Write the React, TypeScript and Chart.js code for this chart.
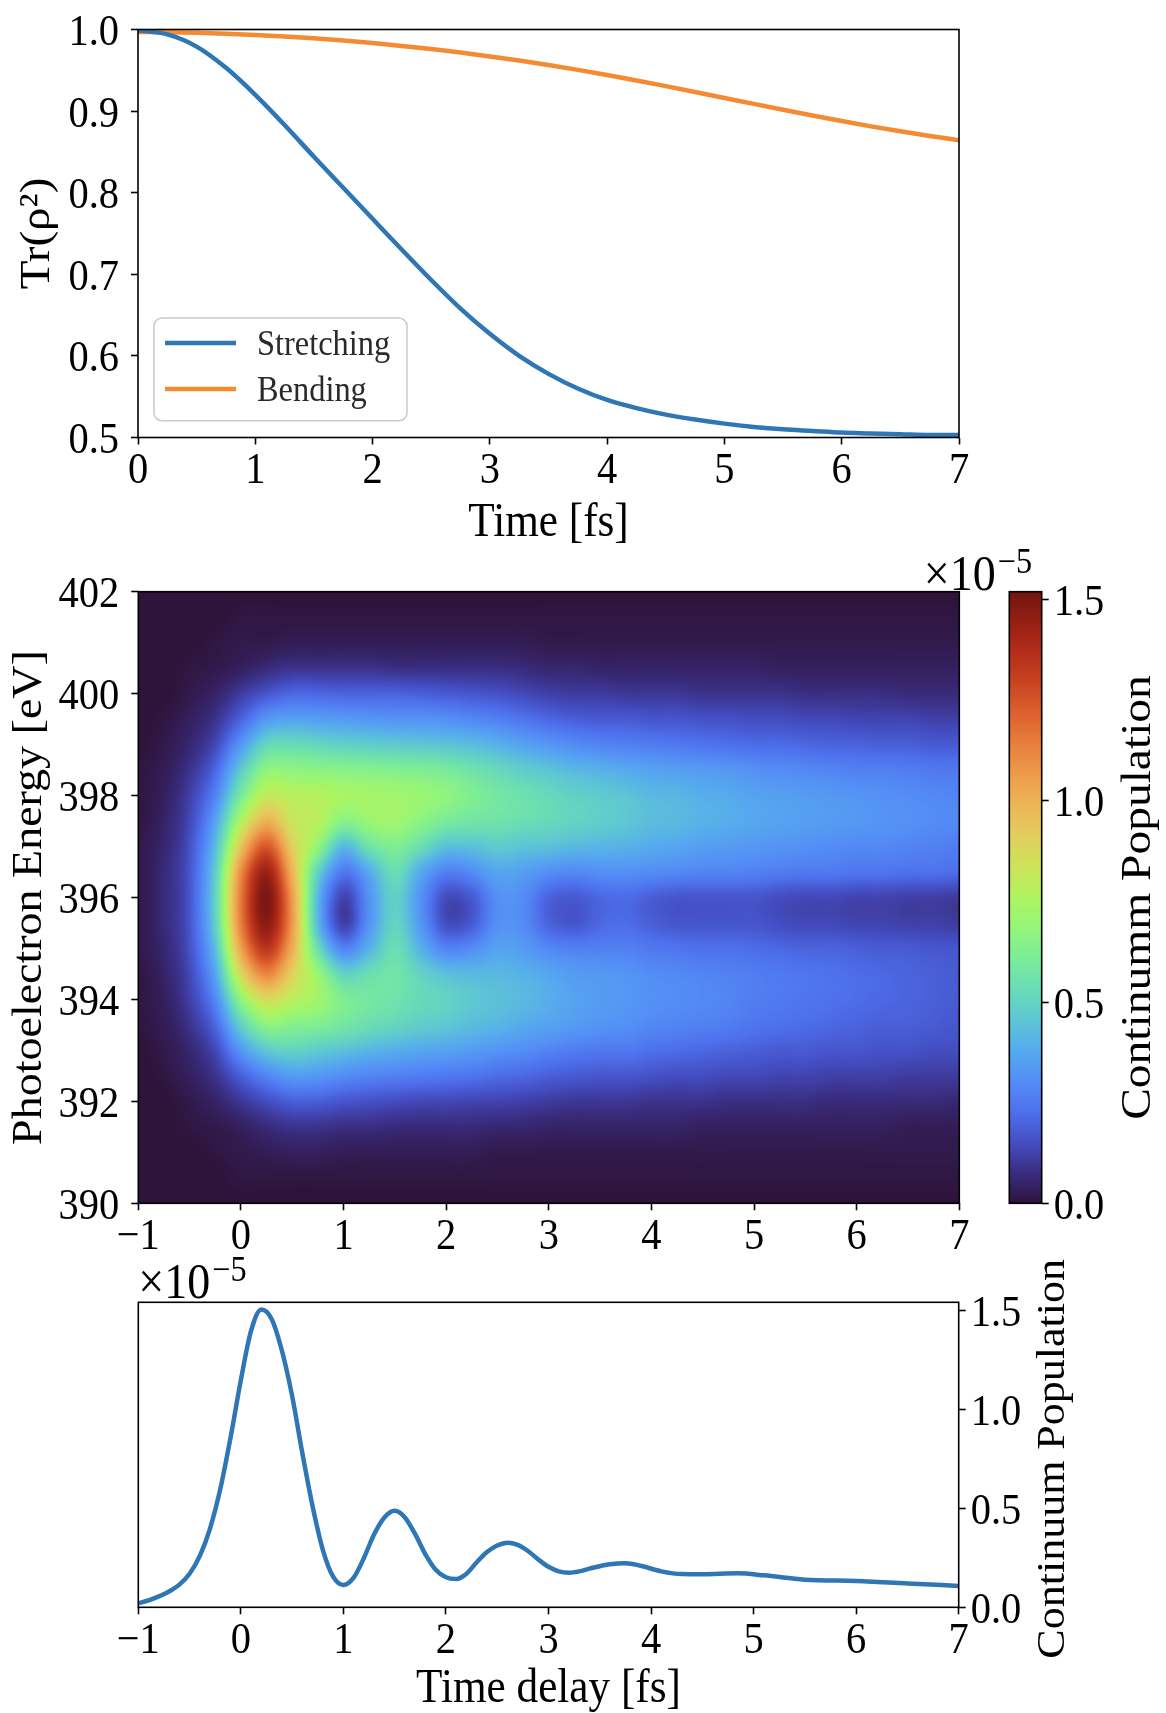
import React, { useEffect, useRef } from "react";
import { Chart, registerables } from "chart.js";

Chart.register(...registerables);

const FONT = "'Liberation Serif', 'Times New Roman', serif";
Chart.defaults.font.family = FONT;
Chart.defaults.color = "#000";

// ---------------- top panel: purity ----------------
const purityTimes = [0, 0.25, 0.5, 0.75, 1, 1.25, 1.5, 1.75, 2, 2.25, 2.5, 2.75, 3, 3.25, 3.5, 3.75, 4, 4.25, 4.5, 4.75, 5, 5.25, 5.5, 5.75, 6, 6.25, 6.5, 6.75, 7];
const stretchingPurity = [0.999, 0.994, 0.979, 0.953, 0.92, 0.883, 0.844, 0.806, 0.768, 0.73, 0.693, 0.658, 0.627, 0.6, 0.578, 0.56, 0.546, 0.536, 0.528, 0.522, 0.517, 0.513, 0.51, 0.508, 0.506, 0.505, 0.504, 0.503, 0.503];
const bendingPurity = [0.997, 0.9967, 0.996, 0.9949, 0.9934, 0.9915, 0.9892, 0.9865, 0.9834, 0.9799, 0.976, 0.9717, 0.967, 0.9619, 0.9564, 0.9505, 0.9443, 0.9376, 0.9306, 0.9234, 0.9161, 0.9088, 0.9016, 0.8946, 0.8878, 0.8813, 0.8752, 0.8695, 0.8643];
const purityXTicks = [0, 1, 2, 3, 4, 5, 6, 7];
const purityYTicks = [0.5, 0.6, 0.7, 0.8, 0.9, 1.0];

// ---------------- middle panel: photoelectron map (values in 1e-7) ----------------
const heatTimes = [-1, -0.75, -0.5, -0.25, 0, 0.25, 0.5, 0.75, 1, 1.25, 1.5, 1.75, 2, 2.25, 2.5, 2.75, 3, 3.25, 3.5, 3.75, 4, 4.25, 4.5, 4.75, 5, 5.25, 5.5, 5.75, 6, 6.25, 6.5, 6.75, 7];
const heatEnergies = [402, 401.5, 401, 400.5, 400, 399.5, 399, 398.5, 398, 397.5, 397, 396.5, 396, 395.5, 395, 394.5, 394, 393.5, 393, 392.5, 392, 391.5, 391, 390.5, 390];
const heatGrid = [
  [0, 0, 0, 0, 0, 0, 0, 1, 1, 1, 2, 2, 2, 2, 2, 1, 1, 1, 0, 0, 0, 0, 0, 0, 0],
  [0, 0, 0, 0, 0, 1, 2, 3, 4, 5, 6, 7, 7, 7, 6, 5, 4, 3, 2, 1, 0, 0, 0, 0, 0],
  [0, 0, 0, 1, 2, 4, 6, 9, 12, 14, 16, 17, 17, 17, 16, 14, 12, 9, 6, 4, 2, 1, 0, 0, 0],
  [0, 0, 1, 2, 5, 9, 14, 21, 28, 36, 43, 48, 50, 49, 44, 37, 29, 21, 14, 9, 5, 2, 1, 0, 0],
  [0, 1, 2, 4, 11, 20, 33, 47, 60, 76, 94, 110, 115, 114, 104, 87, 67, 49, 33, 19, 10, 4, 2, 1, 0],
  [0, 1, 2, 7, 17, 33, 51, 67, 81, 100, 124, 143, 150, 147, 134, 112, 86, 66, 46, 28, 15, 7, 3, 1, 0],
  [0, 1, 3, 9, 21, 36, 53, 67, 78, 83, 91, 99, 106, 107, 101, 90, 79, 64, 50, 34, 19, 9, 4, 1, 0],
  [0, 1, 3, 9, 21, 35, 51, 66, 77, 78, 68, 50, 42, 42, 54, 70, 72, 62, 47, 33, 19, 9, 4, 1, 0],
  [0, 1, 3, 9, 20, 34, 49, 65, 74, 65, 42, 25, 13, 12, 28, 50, 62, 58, 44, 30, 17, 8, 3, 1, 0],
  [0, 1, 3, 9, 20, 33, 48, 64, 73, 70, 56, 38, 32, 32, 40, 54, 58, 54, 41, 28, 16, 8, 3, 1, 0],
  [0, 1, 3, 8, 20, 32, 47, 63, 72, 72, 62, 54, 49, 50, 54, 57, 56, 51, 39, 27, 15, 7, 3, 1, 0],
  [0, 1, 3, 8, 19, 32, 46, 62, 70, 66, 54, 38, 32, 33, 40, 50, 52, 48, 37, 26, 14, 7, 3, 1, 0],
  [0, 1, 3, 8, 18, 31, 45, 60, 67, 60, 44, 27, 15, 15, 28, 44, 50, 46, 36, 25, 14, 7, 3, 1, 0],
  [0, 1, 3, 8, 17, 29, 43, 56, 62, 57, 44, 30, 18, 18, 30, 42, 46, 43, 34, 24, 13, 7, 3, 1, 0],
  [0, 1, 3, 8, 16, 27, 40, 52, 58, 56, 47, 37, 31, 31, 36, 42, 44, 41, 32, 22, 13, 6, 2, 1, 0],
  [0, 1, 3, 7, 14, 24, 36, 48, 55, 54, 45, 35, 30, 30, 34, 40, 42, 38, 30, 21, 12, 6, 2, 1, 0],
  [0, 1, 2, 6, 12, 21, 33, 45, 52, 52, 44, 31, 20, 20, 29, 37, 39, 36, 28, 19, 11, 5, 2, 1, 0],
  [0, 1, 2, 6, 11, 19, 30, 42, 49, 50, 42, 29, 18, 17, 27, 34, 36, 34, 26, 18, 10, 5, 2, 1, 0],
  [0, 1, 2, 5, 11, 18, 28, 40, 47, 48, 41, 31, 21, 21, 27, 33, 34, 32, 25, 17, 10, 5, 2, 1, 0],
  [0, 1, 2, 5, 10, 18, 27, 38, 45, 46, 40, 31, 22, 22, 27, 32, 33, 31, 25, 17, 10, 5, 2, 1, 0],
  [0, 1, 2, 5, 10, 17, 26, 36, 42, 43, 38, 30, 19, 19, 25, 30, 31, 29, 23, 16, 9, 5, 2, 1, 0],
  [0, 1, 2, 5, 10, 17, 25, 35, 41, 42, 37, 29, 17, 17, 24, 29, 30, 28, 22, 15, 9, 5, 2, 1, 0],
  [0, 1, 2, 5, 9, 16, 24, 34, 39, 40, 35, 28, 17, 17, 23, 28, 29, 27, 21, 15, 9, 4, 2, 1, 0],
  [0, 1, 2, 5, 9, 16, 23, 33, 38, 39, 34, 28, 17, 17, 23, 27, 28, 26, 20, 14, 8, 4, 2, 1, 0],
  [0, 1, 2, 5, 9, 15, 22, 31, 36, 37, 33, 27, 17, 17, 22, 26, 26, 24, 19, 14, 8, 4, 2, 1, 0],
  [0, 1, 2, 4, 9, 15, 22, 30, 35, 36, 32, 26, 15, 15, 21, 25, 25, 23, 18, 13, 8, 4, 2, 1, 0],
  [0, 1, 2, 4, 8, 14, 21, 29, 34, 35, 31, 25, 14, 14, 20, 24, 24, 22, 18, 13, 8, 4, 2, 1, 0],
  [0, 1, 2, 4, 8, 14, 20, 28, 33, 34, 30, 25, 14, 14, 20, 23, 23, 21, 17, 12, 7, 4, 2, 1, 0],
  [0, 1, 2, 4, 8, 13, 20, 27, 32, 33, 29, 24, 13, 13, 19, 22, 22, 20, 17, 12, 7, 4, 2, 1, 0],
  [0, 1, 2, 4, 8, 13, 19, 27, 31, 32, 29, 24, 13, 13, 18, 21, 21, 19, 16, 12, 7, 4, 2, 1, 0],
  [0, 1, 2, 4, 7, 13, 19, 26, 30, 31, 28, 23, 12, 12, 18, 20, 20, 19, 16, 11, 7, 3, 2, 1, 0],
  [0, 1, 2, 4, 7, 12, 18, 25, 29, 30, 27, 23, 12, 12, 17, 19, 19, 18, 15, 11, 7, 3, 2, 1, 0],
  [0, 1, 2, 4, 7, 12, 18, 25, 28, 29, 26, 22, 11, 11, 17, 18, 18, 17, 15, 11, 6, 3, 2, 1, 0],
];
const heatUnit = 0.01; // grid unit expressed in 1e-5
const colorMax = 1.52; // top of colour scale, in 1e-5
const heatXTicks = [-1, 0, 1, 2, 3, 4, 5, 6, 7];
const heatYTicks = [390, 392, 394, 396, 398, 400, 402];
const colorbarTicks = [0, 0.5, 1.0, 1.5];

// ---------------- bottom panel: continuum population (1e-5) ----------------
const delayTimes = [-1, -0.9, -0.8, -0.7, -0.6, -0.5, -0.4, -0.3, -0.2, -0.1, 0, 0.1, 0.2, 0.3, 0.4, 0.5, 0.6, 0.7, 0.8, 0.9, 1.0, 1.1, 1.2, 1.3, 1.4, 1.5, 1.6, 1.7, 1.8, 1.9, 2.0, 2.1, 2.2, 2.3, 2.4, 2.5, 2.6, 2.7, 2.8, 2.9, 3.0, 3.1, 3.2, 3.3, 3.4, 3.6, 3.75, 3.9, 4.1, 4.3, 4.5, 4.85, 5.1, 5.5, 6.0, 6.5, 7.0];
const continuumPop = [0.02, 0.035, 0.055, 0.08, 0.115, 0.17, 0.26, 0.4, 0.6, 0.86, 1.15, 1.4, 1.508, 1.46, 1.3, 1.07, 0.78, 0.51, 0.29, 0.155, 0.113, 0.15, 0.25, 0.37, 0.455, 0.489, 0.455, 0.37, 0.268, 0.19, 0.152, 0.143, 0.17, 0.228, 0.28, 0.313, 0.327, 0.316, 0.285, 0.242, 0.205, 0.182, 0.175, 0.182, 0.196, 0.218, 0.223, 0.21, 0.182, 0.168, 0.167, 0.172, 0.162, 0.14, 0.133, 0.121, 0.108];
const delayYTicks = [0, 0.5, 1.0, 1.5];
const delayYMax = 1.544;

const BLUE = "#2f76b5";
const ORANGE = "#f48a32";

// colour scale stops (fraction, r, g, b)
const cmapStops = [
  [0.0, 46, 19, 58], [0.05, 58, 45, 128], [0.1, 68, 78, 195], [0.15, 78, 112, 236],
  [0.2, 84, 142, 246], [0.25, 86, 170, 238], [0.3, 94, 198, 212], [0.35, 106, 220, 182],
  [0.4, 124, 236, 152], [0.45, 148, 245, 122], [0.5, 176, 244, 96], [0.55, 204, 228, 90],
  [0.6, 226, 206, 94], [0.65, 236, 182, 86], [0.7, 238, 156, 76], [0.75, 232, 127, 62],
  [0.8, 220, 97, 46], [0.85, 202, 68, 35], [0.9, 180, 46, 27], [0.95, 150, 31, 20], [1.0, 112, 22, 16],
];

function cmap(frac: number): [number, number, number] {
  const f = Math.max(0, Math.min(1, frac));
  for (let i = 0; i < cmapStops.length - 1; i++) {
    const a = cmapStops[i], b = cmapStops[i + 1];
    if (f <= b[0]) {
      const u = (f - a[0]) / (b[0] - a[0]);
      return [a[1] + (b[1] - a[1]) * u, a[2] + (b[2] - a[2]) * u, a[3] + (b[3] - a[3]) * u];
    }
  }
  const l = cmapStops[cmapStops.length - 1];
  return [l[1], l[2], l[3]];
}

const LUT_N = 1024;
const LUT = (() => {
  const arr = new Uint8ClampedArray(LUT_N * 3);
  for (let i = 0; i < LUT_N; i++) {
    const c = cmap(i / (LUT_N - 1));
    arr[i * 3] = c[0]; arr[i * 3 + 1] = c[1]; arr[i * 3 + 2] = c[2];
  }
  return arr;
})();

function locate(arr: number[], v: number): [number, number] {
  const n = arr.length;
  const asc = arr[n - 1] > arr[0];
  for (let i = 0; i < n - 1; i++) {
    const a = arr[i], b = arr[i + 1];
    if ((asc && v <= b) || (!asc && v >= b) || i === n - 2) {
      const f = (v - a) / (b - a);
      return [i, Math.max(0, Math.min(1, f))];
    }
  }
  return [0, 0];
}

function catmull(f: number): number[] {
  const f2 = f * f, f3 = f2 * f;
  return [(-f3 + 2 * f2 - f) / 2, (3 * f3 - 5 * f2 + 2) / 2, (-3 * f3 + 4 * f2 + f) / 2, (f3 - f2) / 2];
}

const clampI = (i: number, n: number) => Math.max(0, Math.min(n - 1, i));
const minusFmt = (v: any) => String(v).replace("-", "\u2212");
const oneDec = (v: any) => Number(v).toFixed(1);

const TICK_SIZE = 44;
const TICK_SX = 0.92;

function axis(position: string, min: number, max: number, ticks: number[], fmt: any, fit: any) {
  return {
    type: "linear",
    position,
    min,
    max,
    afterBuildTicks: (s: any) => { s.ticks = ticks.map((v) => ({ value: v })); },
    afterFit: fit,
    ticks: { display: false, callback: fmt, autoSkip: false, includeBounds: false },
    grid: { display: true, drawOnChartArea: false, drawTicks: true, tickLength: 7, tickWidth: 1.6, tickColor: "#000", color: "#000" },
    border: { display: false },
  };
}

function drawText(ctx: any, text: string, x: number, y: number, size: number, align: string, sx: number) {
  ctx.save();
  ctx.translate(x, y);
  ctx.scale(sx, 1);
  ctx.font = `${size}px ${FONT}`;
  ctx.fillStyle = "#000";
  ctx.textAlign = align;
  ctx.textBaseline = "alphabetic";
  ctx.fillText(text, 0, 0);
  ctx.restore();
}

function drawRotated(ctx: any, text: string, x: number, y: number, size: number) {
  ctx.save();
  ctx.translate(x, y);
  ctx.rotate(-Math.PI / 2);
  ctx.scale(1, 0.9);
  ctx.font = `${size}px ${FONT}`;
  ctx.fillStyle = "#000";
  ctx.textAlign = "center";
  ctx.textBaseline = "alphabetic";
  ctx.fillText(text, 0, 0);
  ctx.restore();
}

function drawOffset(ctx: any, x: number, baseline: number, align: string) {
  ctx.save();
  ctx.font = `50px ${FONT}`;
  const a = ctx.measureText("\u00d710").width * TICK_SX;
  ctx.font = `35px ${FONT}`;
  const b = ctx.measureText("\u22125").width * TICK_SX;
  const x0 = align === "left" ? x : x - a - b - 2;
  drawText(ctx, "\u00d710", x0, baseline, 50, "left", TICK_SX);
  drawText(ctx, "\u22125", x0 + a + 2, baseline - 17, 35, "left", TICK_SX);
  ctx.restore();
}

const tickLabelPlugin = {
  id: "tickLabels",
  afterDraw(chart: any) {
    const { ctx } = chart;
    Object.keys(chart.scales).forEach((id) => {
      const s = chart.scales[id];
      const o = s.options;
      if (!o.display) return;
      const cb = o.ticks.callback;
      s.ticks.forEach((t: any, i: number) => {
        const text = String(cb.call(s, t.value, i, s.ticks));
        const p = s.getPixelForValue(t.value);
        if (o.position === "bottom") drawText(ctx, text, p, s.top + 45.5, TICK_SIZE, "center", TICK_SX);
        else if (o.position === "left") drawText(ctx, text, s.right - 19, p + 15.5, TICK_SIZE, "right", TICK_SX);
        else drawText(ctx, text, s.left + 12, p + 15.5, TICK_SIZE, "left", TICK_SX);
      });
    });
  },
};

const framePlugin = {
  id: "frame",
  afterDatasetsDraw(chart: any) {
    const { ctx, chartArea: ca } = chart;
    ctx.save();
    ctx.strokeStyle = "#000";
    ctx.lineWidth = 1.6;
    ctx.strokeRect(ca.left, ca.top, ca.right - ca.left, ca.bottom - ca.top);
    ctx.restore();
  },
};

const baseOptions = {
  animation: false,
  responsive: true,
  maintainAspectRatio: false,
  events: [],
};

function makeTop(): any {
  return {
    type: "line",
    data: {
      datasets: [
        { label: "Stretching", data: purityTimes.map((t, i) => ({ x: t, y: stretchingPurity[i] })), borderColor: BLUE, borderWidth: 4.5, pointRadius: 0, cubicInterpolationMode: "monotone", fill: false },
        { label: "Bending", data: purityTimes.map((t, i) => ({ x: t, y: bendingPurity[i] })), borderColor: ORANGE, borderWidth: 4.5, pointRadius: 0, cubicInterpolationMode: "monotone", fill: false },
      ],
    },
    options: {
      ...baseOptions,
      layout: { padding: { left: 0, top: 29.5, right: 207, bottom: 0 } },
      scales: {
        x: axis("bottom", 0, 7, purityXTicks, minusFmt, (s: any) => { s.height = 122.5; }),
        y: axis("left", 0.5, 1.0, purityYTicks, oneDec, (s: any) => { s.width = 138; }),
      },
      plugins: { legend: { display: false }, tooltip: { enabled: false } },
    },
    plugins: [
      framePlugin,
      tickLabelPlugin,
      {
        id: "topText",
        afterDraw(chart: any) {
          const { ctx, chartArea: ca } = chart;
          drawText(ctx, "Time [fs]", (ca.left + ca.right) / 2, ca.bottom + 98.5, 48, "center", 0.9);
          drawRotated(ctx, "Tr(\u03c1\u00b2)", ca.left - 89, (ca.top + ca.bottom) / 2, 47);
        },
      },
      {
        id: "boxLegend",
        afterDatasetsDraw(chart: any) {
          const { ctx, chartArea: ca } = chart;
          const x = ca.left + 16, y = ca.bottom - 119.5, w = 253, h = 102.7;
          ctx.save();
          ctx.beginPath();
          if (ctx.roundRect) ctx.roundRect(x, y, w, h, 8); else ctx.rect(x, y, w, h);
          ctx.fillStyle = "rgba(255,255,255,0.8)";
          ctx.fill();
          ctx.strokeStyle = "#cccccc";
          ctx.lineWidth = 1.6;
          ctx.stroke();
          chart.data.datasets.forEach((ds: any, i: number) => {
            const ly = y + 25 + i * 46;
            ctx.beginPath();
            ctx.moveTo(x + 11, ly);
            ctx.lineTo(x + 82, ly);
            ctx.strokeStyle = ds.borderColor;
            ctx.lineWidth = 4.5;
            ctx.stroke();
            ctx.save();
            ctx.translate(x + 103, ly + 12);
            ctx.scale(0.9, 1);
            ctx.font = `36px ${FONT}`;
            ctx.fillStyle = "#2a2a2a";
            ctx.textAlign = "left";
            ctx.textBaseline = "alphabetic";
            ctx.fillText(ds.label, 0, 0);
            ctx.restore();
          });
          ctx.restore();
        },
      },
    ],
  };
}

function makeHeat(): any {
  return {
    type: "scatter",
    data: { datasets: [] },
    options: {
      ...baseOptions,
      layout: { padding: { left: 0, top: 31.7, right: 206.7, bottom: 0 } },
      scales: {
        x: axis("bottom", -1, 7, heatXTicks, minusFmt, (s: any) => { s.height = 56.7; }),
        y: axis("left", 390, 402, heatYTicks, minusFmt, (s: any) => { s.width = 138.3; }),
      },
      plugins: { legend: { display: false }, tooltip: { enabled: false } },
    },
    plugins: [
      {
        id: "heatLayer",
        beforeDatasetsDraw(chart: any) {
          const { ctx, chartArea: ca, scales } = chart;
          const xs = scales.x, ys = scales.y;
          const cw = ca.right - ca.left, ch = ca.bottom - ca.top;
          const W = Math.max(1, Math.round(cw)), H = Math.max(1, Math.round(ch));
          const nT = heatTimes.length, nE = heatEnergies.length;
          const cI = new Int32Array(W * 4), cW = new Float64Array(W * 4);
          for (let px = 0; px < W; px++) {
            const t = xs.getValueForPixel(ca.left + ((px + 0.5) * cw) / W);
            const [i, f] = locate(heatTimes, t);
            const w = catmull(f);
            for (let k = 0; k < 4; k++) { cI[px * 4 + k] = clampI(i - 1 + k, nT); cW[px * 4 + k] = w[k]; }
          }
          const rI = new Int32Array(H * 4), rW = new Float64Array(H * 4);
          for (let py = 0; py < H; py++) {
            const e = ys.getValueForPixel(ca.top + ((py + 0.5) * ch) / H);
            const [j, f] = locate(heatEnergies, e);
            const w = catmull(f);
            for (let k = 0; k < 4; k++) { rI[py * 4 + k] = clampI(j - 1 + k, nE); rW[py * 4 + k] = w[k]; }
          }
          const off = document.createElement("canvas");
          off.width = W; off.height = H;
          const octx = off.getContext("2d")!;
          const img = octx.createImageData(W, H);
          const d = img.data;
          for (let py = 0; py < H; py++) {
            for (let px = 0; px < W; px++) {
              let v = 0;
              for (let a = 0; a < 4; a++) {
                const col = heatGrid[cI[px * 4 + a]];
                const wa = cW[px * 4 + a];
                let s = 0;
                for (let b = 0; b < 4; b++) s += rW[py * 4 + b] * col[rI[py * 4 + b]];
                v += wa * s;
              }
              const frac = Math.max(0, Math.min(1, (v * heatUnit) / colorMax));
              const li = Math.round(frac * (LUT_N - 1)) * 3;
              const o = (py * W + px) * 4;
              d[o] = LUT[li]; d[o + 1] = LUT[li + 1]; d[o + 2] = LUT[li + 2]; d[o + 3] = 255;
            }
          }
          octx.putImageData(img, 0, 0);
          ctx.save();
          ctx.imageSmoothingEnabled = true;
          ctx.drawImage(off, ca.left, ca.top, cw, ch);
          ctx.restore();
        },
      },
      framePlugin,
      tickLabelPlugin,
      {
        id: "heatText",
        afterDraw(chart: any) {
          const { ctx, chartArea: ca } = chart;
          drawRotated(ctx, "Photoelectron Energy [eV]", ca.left - 97.3, (ca.top + ca.bottom) / 2, 46);
        },
      },
    ],
  };
}

function makeBar(): any {
  return {
    type: "scatter",
    data: { datasets: [] },
    options: {
      ...baseOptions,
      layout: { padding: { left: 129.3, top: 111.7, right: 0, bottom: 56.7 } },
      scales: {
        x: { type: "linear", display: false, min: 0, max: 1 },
        y: axis("right", 0, colorMax, colorbarTicks, oneDec, (s: any) => { s.width = 124.3; }),
      },
      plugins: { legend: { display: false }, tooltip: { enabled: false } },
    },
    plugins: [
      {
        id: "barFill",
        beforeDatasetsDraw(chart: any) {
          const { ctx, chartArea: ca, scales } = chart;
          const ys = scales.y;
          ctx.save();
          ctx.beginPath();
          ctx.rect(ca.left, ca.top, ca.right - ca.left, ca.bottom - ca.top);
          ctx.clip();
          for (let py = Math.floor(ca.top); py < Math.ceil(ca.bottom); py++) {
            const v = ys.getValueForPixel(py + 0.5);
            const c = cmap(v / colorMax);
            ctx.fillStyle = `rgb(${Math.round(c[0])},${Math.round(c[1])},${Math.round(c[2])})`;
            ctx.fillRect(ca.left, py, ca.right - ca.left, 1.05);
          }
          ctx.restore();
        },
      },
      framePlugin,
      tickLabelPlugin,
      {
        id: "barText",
        afterDraw(chart: any) {
          const { ctx, chartArea: ca } = chart;
          drawRotated(ctx, "Continumm Population", ca.right + 108.3, (ca.top + ca.bottom) / 2, 47.5);
          drawOffset(ctx, ca.right - 9.7, ca.top - 1.7, "right");
        },
      },
    ],
  };
}

function makeBottom(): any {
  return {
    type: "line",
    data: {
      datasets: [
        { label: "Continuum Population", data: delayTimes.map((t, i) => ({ x: t, y: continuumPop[i] })), borderColor: BLUE, borderWidth: 4.5, pointRadius: 0, cubicInterpolationMode: "monotone", fill: false },
      ],
    },
    options: {
      ...baseOptions,
      layout: { padding: { left: 138.3, top: 62.3, right: 0, bottom: 0 } },
      scales: {
        x: axis("bottom", -1, 7, heatXTicks, minusFmt, (s: any) => { s.height = 105.7; }),
        y: axis("right", 0, delayYMax, delayYTicks, oneDec, (s: any) => { s.width = 207.3; }),
      },
      plugins: { legend: { display: false }, tooltip: { enabled: false } },
    },
    plugins: [
      framePlugin,
      tickLabelPlugin,
      {
        id: "bottomText",
        afterDraw(chart: any) {
          const { ctx, chartArea: ca } = chart;
          drawText(ctx, "Time delay [fs]", (ca.left + ca.right) / 2, ca.bottom + 94.7, 48, "center", 0.9);
          drawRotated(ctx, "Continuum Population", ca.right + 105.3, (ca.top + ca.bottom) / 2 + 4, 44);
          drawOffset(ctx, ca.left, ca.top - 4, "left");
        },
      },
    ],
  };
}

function ChartBox({ left, top, width, height, make }: { left: number; top: number; width: number; height: number; make: () => any }) {
  const ref = useRef<HTMLCanvasElement | null>(null);
  useEffect(() => {
    if (!ref.current) return;
    const chart = new Chart(ref.current, make());
    return () => chart.destroy();
  }, []);
  return (
    <div style={{ position: "absolute", left, top, width, height }}>
      <canvas ref={ref} />
    </div>
  );
}

export default function App() {
  return (
    <div style={{ position: "absolute", left: 0, top: 0, width: 1166, height: 1713, background: "#fff", overflow: "hidden" }}>
      <ChartBox left={0} top={0} width={1166} height={560} make={makeTop} />
      <ChartBox left={0} top={560} width={1166} height={700} make={makeHeat} />
      <ChartBox left={880} top={480} width={286} height={780} make={makeBar} />
      <ChartBox left={0} top={1240} width={1166} height={473} make={makeBottom} />
    </div>
  );
}
